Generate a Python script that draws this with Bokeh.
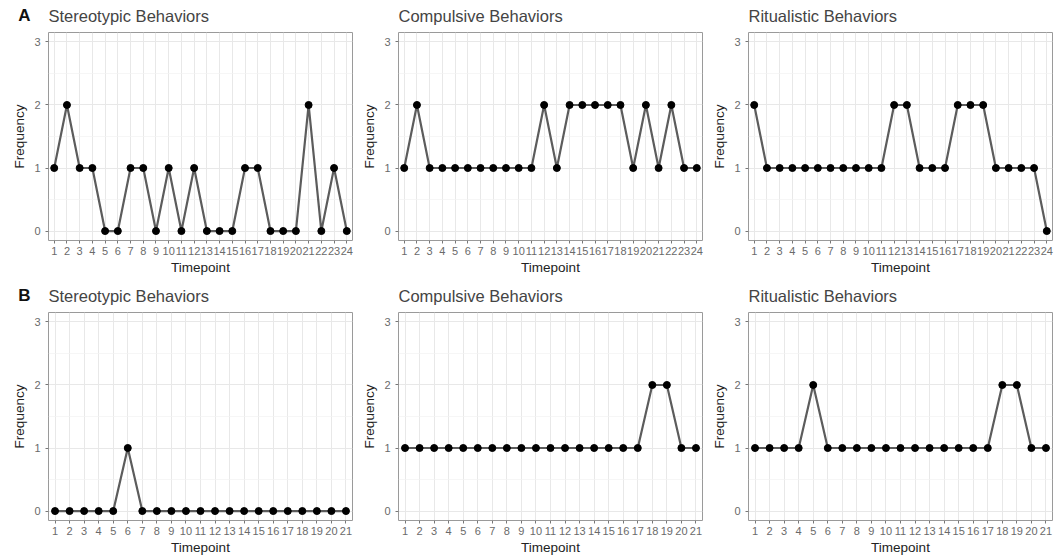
from bokeh.plotting import figure
from bokeh.layouts import column, row
from bokeh.models import Range1d, FixedTicker, ColumnDataSource
from bokeh.core.properties import value
from bokeh.embed import file_html
from bokeh.resources import INLINE

# ---- data ----
timepoints_A = [1, 2, 3, 4, 5, 6, 7, 8, 9, 10, 11, 12, 13, 14, 15, 16, 17, 18, 19, 20, 21, 22, 23, 24]
timepoints_B = [1, 2, 3, 4, 5, 6, 7, 8, 9, 10, 11, 12, 13, 14, 15, 16, 17, 18, 19, 20, 21]

a_stereotypic = [1, 2, 1, 1, 0, 0, 1, 1, 0, 1, 0, 1, 0, 0, 0, 1, 1, 0, 0, 0, 2, 0, 1, 0]
a_compulsive = [1, 2, 1, 1, 1, 1, 1, 1, 1, 1, 1, 2, 1, 2, 2, 2, 2, 2, 1, 2, 1, 2, 1, 1]
a_ritualistic = [2, 1, 1, 1, 1, 1, 1, 1, 1, 1, 1, 2, 2, 1, 1, 1, 2, 2, 2, 1, 1, 1, 1, 0]

b_stereotypic = [0, 0, 0, 0, 0, 1, 0, 0, 0, 0, 0, 0, 0, 0, 0, 0, 0, 0, 0, 0, 0]
b_compulsive = [1, 1, 1, 1, 1, 1, 1, 1, 1, 1, 1, 1, 1, 1, 1, 1, 1, 2, 2, 1, 1]
b_ritualistic = [1, 1, 1, 1, 2, 1, 1, 1, 1, 1, 1, 1, 1, 1, 1, 1, 1, 2, 2, 1, 1]

panel_titles = ["Stereotypic Behaviors", "Compulsive Behaviors", "Ritualistic Behaviors"]
row_letters = ["A", "B"]
y_ticks = [0, 1, 2, 3]
y_minor = [0.5, 1.5, 2.5]

FONT = "Liberation Sans"
TOTAL_W = 1054
HEADER_H = 31
COL_W = [354, 350, 350]
COL_LEFT = [48, 44, 44]


def make_header(letter):
    # strip holding the row letter and the three panel titles
    h = figure(width=TOTAL_W, height=HEADER_H, output_backend="svg", toolbar_location=None,
               x_range=Range1d(0, TOTAL_W), y_range=Range1d(HEADER_H, 0),
               min_border=0, x_axis_type=None, y_axis_type=None,
               background_fill_color="white", border_fill_color="white")
    h.outline_line_color = None
    h.grid.visible = False
    # title anchors = left edge of each panel's plotting frame
    lefts = []
    acc = 0
    for w, l in zip(COL_W, COL_LEFT):
        lefts.append(acc + l)
        acc += w
    src = ColumnDataSource(dict(x=lefts, y=[15, 15, 15], t=panel_titles))
    h.text(x="x", y="y", text="t", source=src, text_font=value(FONT),
           text_font_size="16.5px", text_color="#444444",
           text_align="left", text_baseline="middle")
    h.text(x=[24], y=[15], text=[letter], text_font=value(FONT),
           text_font_size="17px", text_font_style="bold", text_color="#111111",
           text_align="center", text_baseline="middle")
    return h


def make_panel(xs, ys, col):
    p = figure(width=COL_W[col], height=280 - HEADER_H, output_backend="svg", toolbar_location=None,
               x_range=Range1d(xs[0] - 0.45, xs[-1] + 0.45),
               y_range=Range1d(-0.15, 3.15),
               min_border_left=COL_LEFT[col], min_border_right=2,
               min_border_top=1, min_border_bottom=40,
               background_fill_color="white", border_fill_color="white")

    p.outline_line_color = "#9a9a9a"
    p.outline_line_width = 1

    # grids
    p.xgrid.ticker = FixedTicker(ticks=xs)
    p.xgrid.grid_line_color = "#e8e8e8"
    p.xgrid.grid_line_width = 1
    p.ygrid.ticker = FixedTicker(ticks=y_ticks, minor_ticks=y_minor)
    p.ygrid.grid_line_color = "#e8e8e8"
    p.ygrid.grid_line_width = 1
    p.ygrid.minor_grid_line_color = "#f2f2f2"
    p.ygrid.minor_grid_line_width = 0.7

    # axes
    p.xaxis.ticker = FixedTicker(ticks=xs)
    p.yaxis.ticker = FixedTicker(ticks=y_ticks)
    for ax in (p.xaxis[0], p.yaxis[0]):
        ax.axis_line_color = None
        ax.major_tick_line_color = "#777777"
        ax.major_tick_out = 3
        ax.major_tick_in = 0
        ax.minor_tick_line_color = None
        ax.major_label_text_font = FONT
        ax.major_label_text_font_size = "11px"
        ax.major_label_text_color = "#6a6a6a"
        ax.axis_label_text_font = FONT
        ax.axis_label_text_font_size = "13.5px"
        ax.axis_label_text_font_style = "normal"
        ax.axis_label_text_color = "#222222"
    p.xaxis.axis_label = "Timepoint"
    p.yaxis.axis_label = "Frequency"
    p.xaxis.major_label_standoff = 3
    p.xaxis.axis_label_standoff = 2
    p.yaxis.major_label_standoff = 5
    p.yaxis.axis_label_standoff = 4

    p.line(xs, ys, line_color="#5c5c5c", line_width=2.2)
    p.scatter(xs, ys, size=7, fill_color="black", line_color="black")
    return p


row_a = row(
    make_panel(timepoints_A, a_stereotypic, 0),
    make_panel(timepoints_A, a_compulsive, 1),
    make_panel(timepoints_A, a_ritualistic, 2),
)
row_b = row(
    make_panel(timepoints_B, b_stereotypic, 0),
    make_panel(timepoints_B, b_compulsive, 1),
    make_panel(timepoints_B, b_ritualistic, 2),
)

layout = column(make_header(row_letters[0]), row_a, make_header(row_letters[1]), row_b)

open("out.html", "w").write(file_html(layout, INLINE))
